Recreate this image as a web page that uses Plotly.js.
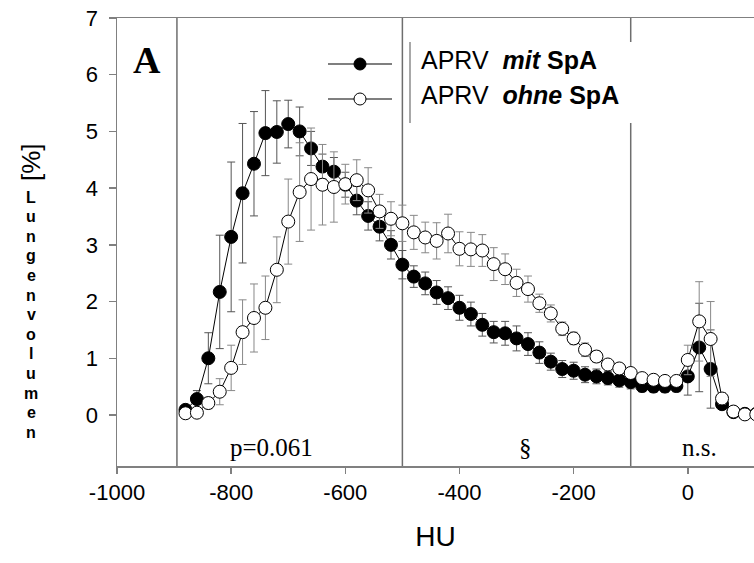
<!DOCTYPE html>
<html><head><meta charset="utf-8">
<script src="https://cdn.plot.ly/plotly-3.0.1.min.js"></script>
<style>html,body{margin:0;padding:0;background:#fff}</style>
</head><body><div id="chart" style="width:754px;height:563px"></div>
<script>
// ---------------- data ----------------
const HU = [-880,-860,-840,-820,-800,-780,-760,-740,-720,-700,-680,-660,-640,-620,-600,-580,-560,-540,-520,-500,
            -480,-460,-440,-420,-400,-380,-360,-340,-320,-300,-280,-260,-240,-220,-200,-180,-160,-140,-120,-100,
            -80,-60,-40,-20,0,20,40,60,80,100,120];
const mitSpA = [0.09,0.28,1.00,2.17,3.14,3.91,4.43,4.97,4.99,5.13,5.00,4.70,4.38,4.29,4.06,3.78,3.51,3.32,3.00,2.65,
                2.44,2.32,2.16,2.06,1.89,1.78,1.59,1.46,1.44,1.35,1.25,1.10,0.94,0.81,0.78,0.71,0.68,0.65,0.61,0.58,
                0.51,0.50,0.50,0.51,0.68,1.19,0.81,0.19,0.05,0.02,0.02];
const mitErr = [0.05,0.15,0.45,1.00,1.32,1.23,0.92,0.75,0.55,0.42,0.43,0.30,0.22,0.25,0.22,0.25,0.25,0.25,0.25,0.25,
                0.19,0.20,0.21,0.20,0.22,0.21,0.20,0.19,0.21,0.22,0.20,0.19,0.15,0.15,0.15,0.14,0.13,0.12,0.12,0.12,
                0.10,0.10,0.10,0.10,0.33,0.78,0.69,0.08,0.03,0.02,0.02];
const ohneSpA = [0.03,0.04,0.21,0.41,0.83,1.46,1.71,1.89,2.56,3.41,3.93,4.16,4.06,4.02,4.07,4.14,3.96,3.59,3.46,3.38,
                 3.22,3.13,3.07,3.20,2.93,2.92,2.90,2.66,2.57,2.33,2.22,1.97,1.79,1.52,1.35,1.15,1.03,0.89,0.82,0.74,
                 0.65,0.62,0.60,0.60,0.97,1.65,1.34,0.29,0.06,0.01,0.01];
const ohneErr = [0.03,0.05,0.10,0.23,0.40,0.57,0.60,0.56,0.58,0.75,0.87,0.90,0.71,0.62,0.35,0.36,0.40,0.30,0.30,0.32,
                 0.30,0.27,0.32,0.34,0.30,0.30,0.28,0.29,0.27,0.24,0.23,0.16,0.15,0.12,0.11,0.12,0.10,0.08,0.08,0.08,
                 0.07,0.07,0.07,0.07,0.26,0.70,0.66,0.10,0.03,0.02,0.02];
const xTicks = [-1000,-800,-600,-400,-200,0];
const yTicks = [0,1,2,3,4,5,6,7];
const regionLines = [-895,-500,-100];
const regionLabels = ['p=0.061','§','n.s.'];
const regionLabelHU = [-730,-285,20];
const seriesNames = ['APRV&#160;&#160;<b><i>mit</i> SpA</b>','APRV&#160;&#160;<b><i>ohne</i> SpA</b>'];
const yTitleUnit = '[%]';
const yTitleWord = 'Lungenvolumen';
const panelLetter = 'A';

// ---------------- layout helpers ----------------
const L = 117, T = 18, PW = 637, PH = 448;
const px = v => (v - L) / PW;
const py = v => (T + PH - v) / PH;

const SANS = 'Liberation Sans, Arial, sans-serif';
const SERIF = 'Liberation Serif, Times New Roman, serif';

const traces = [
  {x: HU, y: mitSpA, type: 'scatter', mode: 'lines+markers', showlegend: false,
   line: {color: '#000', width: 1},
   marker: {size: 13, color: '#000', line: {color: '#000', width: 1}},
   error_y: {type: 'data', array: mitErr, visible: true, color: '#555', thickness: 1, width: 4}},
  {x: HU, y: ohneSpA, type: 'scatter', mode: 'lines+markers', showlegend: false,
   line: {color: '#000', width: 1},
   marker: {size: 13, color: '#fff', line: {color: '#000', width: 1}},
   error_y: {type: 'data', array: ohneErr, visible: true, color: '#888', thickness: 1, width: 4}}
];

const shapes = [];
regionLines.forEach(h => shapes.push({type: 'line', xref: 'x', yref: 'paper', x0: h, x1: h, y0: 0, y1: 1,
  line: {color: '#6e6e6e', width: 1.5}, layer: 'below'}));
// legend box
shapes.push({type: 'rect', xref: 'paper', yref: 'paper', x0: px(410), x1: px(650), y0: py(123), y1: py(42),
  fillcolor: '#fff', line: {width: 0}, layer: 'below'});
shapes.push({type: 'line', xref: 'paper', yref: 'paper', x0: px(410), x1: px(410), y0: py(123), y1: py(42),
  line: {color: '#6e6e6e', width: 1.2}, layer: 'below'});
// legend samples
const legY = [64, 99];
const legFill = ['#000', '#fff'];
legY.forEach((yy, i) => {
  shapes.push({type: 'line', xref: 'paper', yref: 'paper', x0: px(328), x1: px(392), y0: py(yy), y1: py(yy),
    line: {color: '#555', width: 1.3}, layer: 'above'});
  shapes.push({type: 'circle', xref: 'paper', yref: 'paper', xsizemode: 'pixel', ysizemode: 'pixel',
    xanchor: px(360), yanchor: py(yy), x0: -6, x1: 6, y0: -6, y1: 6,
    fillcolor: legFill[i], line: {color: '#000', width: 1}, layer: 'above'});
});

const annotations = [];
seriesNames.forEach((n, i) => annotations.push({xref: 'paper', yref: 'paper', x: px(419), y: py([60, 95][i]),
  xanchor: 'left', yanchor: 'middle', showarrow: false, text: n, font: {family: SANS, size: 25, color: '#000'}}));
regionLabels.forEach((t, i) => annotations.push({xref: 'x', yref: 'paper', x: regionLabelHU[i], y: py(447),
  xanchor: 'center', yanchor: 'middle', showarrow: false, text: t, font: {family: SERIF, size: 25, color: '#000'}}));
annotations.push({xref: 'paper', yref: 'paper', x: px(147), y: py(60), xanchor: 'center', yanchor: 'middle',
  showarrow: false, text: '<b>' + panelLetter + '</b>', font: {family: SERIF, size: 38, color: '#000'}});
annotations.push({xref: 'paper', yref: 'paper', x: px(31), y: py(162), xanchor: 'center', yanchor: 'middle',
  showarrow: false, textangle: -90, text: yTitleUnit, font: {family: SANS, size: 26, color: '#000'}});
yTitleWord.split('').forEach((ch, i) => annotations.push({xref: 'paper', yref: 'paper', x: px(31), y: py(197 + i * 19.6),
  xanchor: 'center', yanchor: 'middle', showarrow: false, text: '<b>' + ch + '</b>', font: {family: SANS, size: 16, color: '#000'}}));

const layout = {
  width: 754, height: 563,
  margin: {l: L, r: 0, t: T, b: 563 - T - PH},
  paper_bgcolor: '#fff', plot_bgcolor: '#fff',
  showlegend: false,
  xaxis: {range: [-1000, 116], tickvals: xTicks, ticktext: xTicks.map(String), ticks: 'outside', ticklen: 6,
    tickwidth: 1.5, tickcolor: '#808080', showline: true, linecolor: '#808080', linewidth: 1.5, mirror: true,
    showgrid: false, zeroline: false, ticklabelstandoff: 0,
    tickfont: {family: SANS, size: 22, color: '#000'},
    title: {text: 'HU', font: {family: SANS, size: 28, color: '#000'}, standoff: 22}},
  yaxis: {range: [-0.9, 7], tickvals: yTicks, ticktext: yTicks.map(String), ticks: 'outside', ticklen: 7,
    tickwidth: 1.5, tickcolor: '#808080', showline: true, linecolor: '#808080', linewidth: 1.5, mirror: false,
    showgrid: false, zeroline: false, ticklabelstandoff: 6,
    tickfont: {family: SANS, size: 22, color: '#000'}},
  shapes: shapes,
  annotations: annotations
};

Plotly.newPlot('chart', traces, layout, {staticPlot: true, displayModeBar: false});
</script></body></html>
